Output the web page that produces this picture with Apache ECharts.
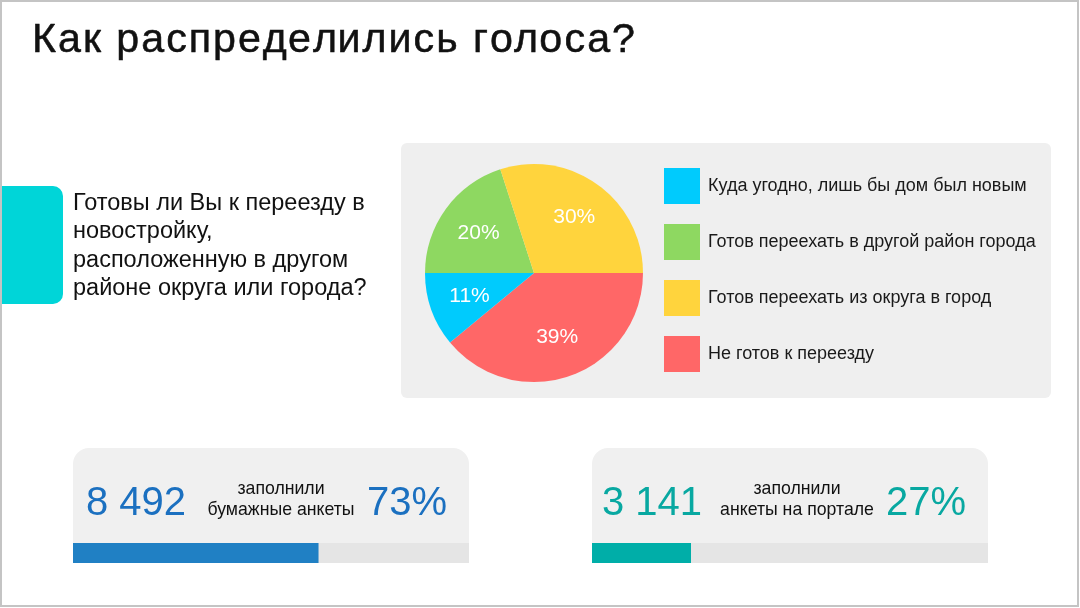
<!DOCTYPE html>
<html>
<head>
<meta charset="utf-8">
<script src="https://cdn.jsdelivr.net/npm/echarts@6/dist/echarts.min.js"></script>
<style>
  html, body { margin: 0; padding: 0; background: #fff; }
  #chart { width: 1080px; height: 608px; }
</style>
</head>
<body>
<div id="chart"></div>
<script>
// данные слайда
const answers = ['Куда угодно, лишь бы дом был новым', 'Готов переехать в другой район города', 'Готов переехать из округа в город', 'Не готов к переезду'];
const shares = [11, 20, 30, 39];
const sliceColors = ['#00cbfd', '#8ed861', '#ffd43d', '#ff6767'];
// порядок секторов на круге (по часовой от 3 часов)
const pieOrder = [3, 0, 1, 2];

const cardCounts = ['8 492', '3 141'];
const cardShares = [73, 27];
const cardCaptions = ['заполнили\nбумажные анкеты', 'заполнили\nанкеты на портале'];
// длина полос, как нарисовано на слайде
const barFill = [62, 25];

const FONT = '"Liberation Sans", Arial, sans-serif';
const cardLeft = [73, 592];
const cardColors = ['#2080c4', '#00aea8'];
const numColors = ['#1b70c0', '#08a8a1'];

const titleText = 'Как распределились голоса?';
const titleFont = 'normal 40px ' + FONT;

const chart = echarts.init(document.getElementById('chart'));

const graphic = [
  { type: 'rect', z: 100, silent: true, shape: { x: 1, y: 1, width: 1077, height: 605 },
    style: { fill: 'none', stroke: '#c4c4c4', lineWidth: 2 } },
  { type: 'rect', shape: { x: 0, y: 186, width: 63, height: 118, r: [0, 10, 10, 0] }, style: { fill: '#00d5d8' } },
  { type: 'text', x: 73, y: 246,
    style: { text: 'Готовы ли Вы к переезду в\nновостройку,\nрасположенную в другом\nрайоне округа или города?', font: '23.5px ' + FONT, lineHeight: 28.5, fill: '#111', verticalAlign: 'middle' } },
  { type: 'rect', z: -1, shape: { x: 401, y: 143, width: 650, height: 255, r: 6 }, style: { fill: '#efefef' } }
];

// заголовок на слайде набран широким шрифтом с разрядкой
const ctx = document.createElement('canvas').getContext('2d');
ctx.font = titleFont;
const chars = Array.from(titleText);
const spacing = 2;
const titleScale = (603 - spacing * (chars.length - 1)) / ctx.measureText(titleText).width;
chars.forEach((ch, i) => {
  const before = ctx.measureText(chars.slice(0, i).join('')).width;
  graphic.push({ type: 'text', x: 32 + titleScale * before + i * spacing, y: 41, scaleX: titleScale,
    style: { text: ch, font: titleFont, fill: '#111', stroke: '#111', lineWidth: 0.5, verticalAlign: 'middle' } });
});

cardLeft.forEach((x, i) => {
  graphic.push(
    { type: 'rect', z: -1, shape: { x: x, y: 448, width: 396, height: 115, r: [16, 16, 0, 0] }, style: { fill: '#f0f0f0' } },
    { type: 'text', x: x + 13 + (i ? -3 : 0), y: 504,
      style: { text: cardCounts[i], font: '40px ' + FONT, fill: numColors[i], verticalAlign: 'middle' } },
    { type: 'text', x: x + 374, y: 504,
      style: { text: cardShares[i] + '%', font: '40px ' + FONT, fill: numColors[i], align: 'right', verticalAlign: 'middle' } },
    { type: 'text', x: x + 208 + (i ? -3 : 0), y: 500,
      style: { text: cardCaptions[i], font: '17.7px ' + FONT, lineHeight: 21, fill: '#111', align: 'center', verticalAlign: 'middle' } }
  );
});

const pieData = pieOrder.map(k => ({ name: answers[k], value: shares[k], itemStyle: { color: sliceColors[k] } }));

const option = {
  animation: false,
  graphic: graphic,
  legend: {
    orient: 'vertical', left: 664, top: 168, padding: 0,
    itemWidth: 36, itemHeight: 36, itemGap: 20, icon: 'rect',
    selectedMode: false,
    data: answers,
    textStyle: { fontFamily: FONT, fontSize: 18, color: '#1a1a1a', padding: [0, 0, 0, 3] }
  },
  grid: cardLeft.map(x => ({ left: x, top: 543, width: 396, height: 20 })),
  xAxis: cardLeft.map((x, i) => ({ type: 'value', gridIndex: i, min: 0, max: 100, show: false })),
  yAxis: cardLeft.map((x, i) => ({ type: 'category', gridIndex: i, data: [''], show: false })),
  series: [
    {
      type: 'pie', center: [534, 273], radius: 109, startAngle: 0, clockwise: true,
      silent: true, data: pieData,
      label: { show: false }, labelLine: { show: false }
    },
    {
      // прозрачное кольцо только для подписей, чуть дальше от центра
      type: 'pie', center: [534, 273], radius: [22, 109], startAngle: 0, clockwise: true,
      silent: true, legendHoverLink: false,
      data: pieData.map(d => ({ name: d.name, value: d.value })),
      itemStyle: { color: 'rgba(0,0,0,0)' },
      label: { position: 'inner', formatter: '{c}%', color: '#fff', fontFamily: FONT, fontSize: 21 },
      labelLine: { show: false }
    },
    ...barFill.map((v, i) => ({
      type: 'bar', xAxisIndex: i, yAxisIndex: i, barWidth: 20, silent: true,
      data: [v], itemStyle: { color: cardColors[i] },
      showBackground: true, backgroundStyle: { color: '#e5e5e5' }
    }))
  ]
};

chart.setOption(option);
</script>
</body>
</html>
